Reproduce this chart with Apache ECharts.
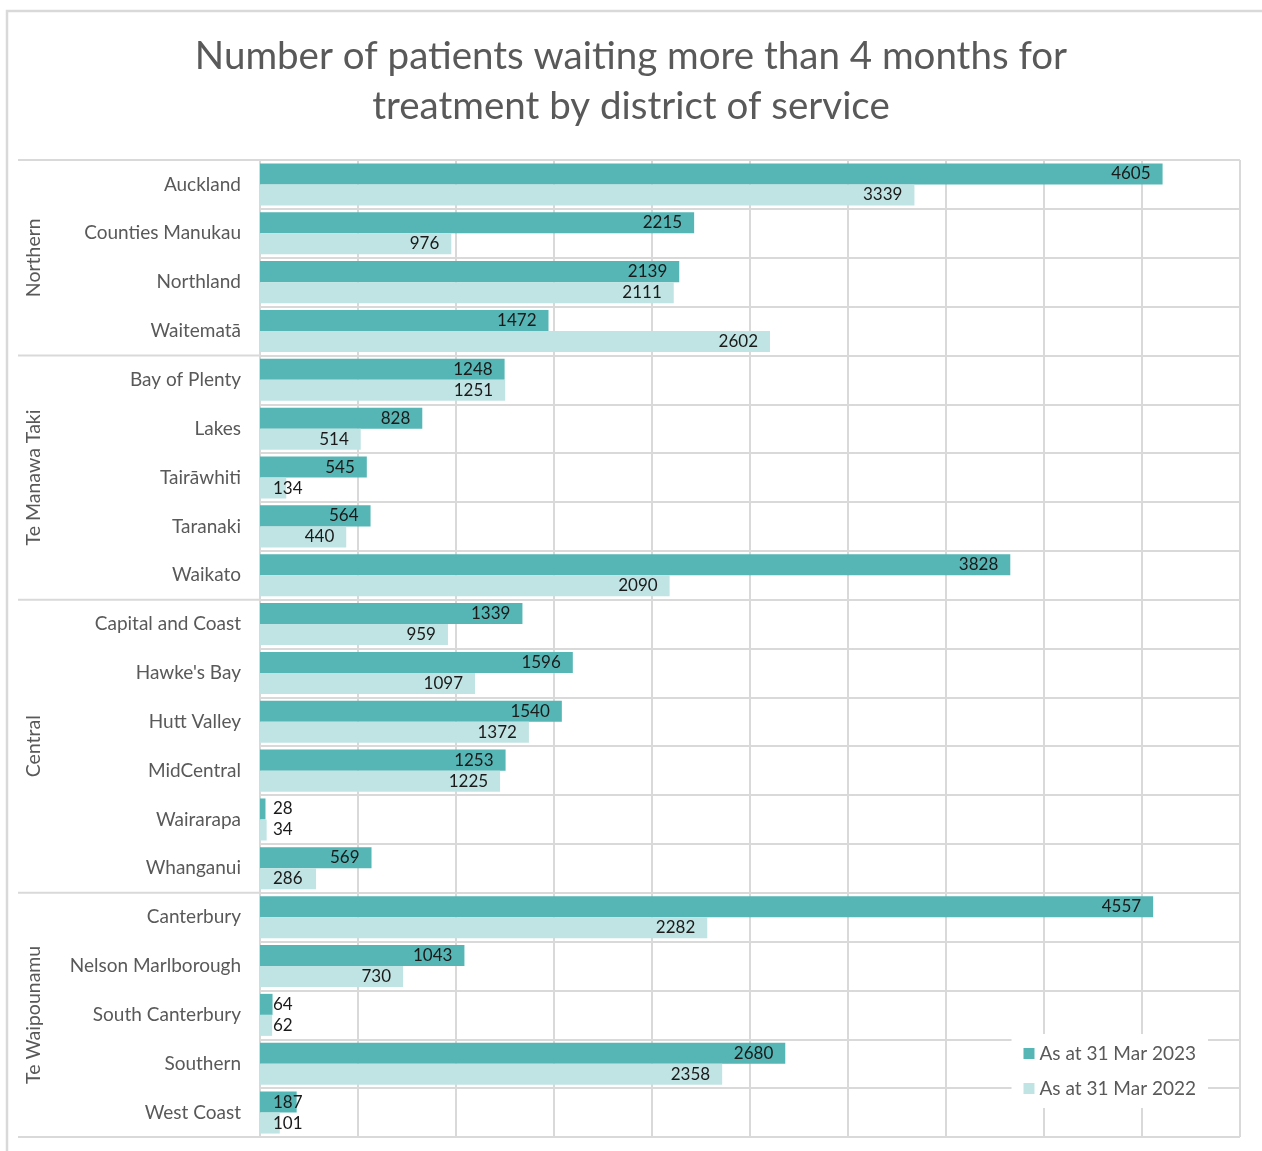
<!DOCTYPE html>
<html>
<head>
<meta charset="utf-8">
<script src="https://cdn.jsdelivr.net/npm/echarts@6/dist/echarts.min.js"></script>
<style>
  html, body { margin: 0; padding: 0; background: #fff; }
  #main { width: 1262px; height: 1151px; }
</style>
</head>
<body>
<div id="main"></div>
<script>
const districts = ['Auckland', 'Counties Manukau', 'Northland', 'Waitematā', 'Bay of Plenty', 'Lakes', 'Tairāwhiti', 'Taranaki', 'Waikato', 'Capital and Coast', "Hawke's Bay", 'Hutt Valley', 'MidCentral', 'Wairarapa', 'Whanganui', 'Canterbury', 'Nelson Marlborough', 'South Canterbury', 'Southern', 'West Coast']
const mar2023 = [4605, 2215, 2139, 1472, 1248, 828, 545, 564, 3828, 1339, 1596, 1540, 1253, 28, 569, 4557, 1043, 64, 2680, 187]
const mar2022 = [3339, 976, 2111, 2602, 1251, 514, 134, 440, 2090, 959, 1097, 1372, 1225, 34, 286, 2282, 730, 62, 2358, 101]
const regions = ['Northern', 'Te Manawa Taki', 'Central', 'Te Waipounamu']
const regionSizes = [4, 5, 6, 5]
const seriesNames = ['As at 31 Mar 2023', 'As at 31 Mar 2022']

const FONT = 'Lato, "Open Sans", sans-serif'
const GREY = '#595959'
const LINE = '#d9d9d9'

// excel puts the label at inside end, but slides it to the bar start when it does not fit
const toItems = (values) =>
  values.map((v) => ({
    value: v,
    label: v < 300 ? { position: 'insideLeft', distance: 13 } : { position: 'insideRight', distance: 12 },
  }))

const myChart = echarts.init(document.getElementById('main'))

const barSeries = (name, values, color) => ({
  name: name,
  type: 'bar',
  barGap: '0%',
  barCategoryGap: '14%',
  itemStyle: { color: color },
  label: {
    show: true,
    color: '#1a1a1a',
    fontSize: 17,
    fontFamily: FONT,
  },
  data: toItems(values),
})

const option = {
  animation: false,
  title: {
    text: 'Number of patients waiting more than 4 months for\ntreatment by district of service',
    left: 'center',
    top: 27,
    textStyle: {
      color: GREY,
      fontSize: 38.5,
      fontWeight: 'normal',
      fontFamily: FONT,
      lineHeight: 50,
    },
  },
  grid: { left: 260, right: 22, top: 160, bottom: 14 },
  legend: {
    orient: 'vertical',
    right: 54,
    bottom: 43,
    icon: 'rect',
    itemWidth: 11,
    itemHeight: 11,
    itemGap: 16,
    backgroundColor: '#fff',
    padding: [10, 12, 10, 12],
    textStyle: { color: GREY, fontSize: 19, fontFamily: FONT },
    data: seriesNames,
  },
  xAxis: {
    type: 'value',
    min: 0,
    max: 5000,
    interval: 500,
    axisLabel: { show: false },
    axisLine: { show: false },
    axisTick: { show: false },
    splitLine: { lineStyle: { color: LINE, width: 2 } },
  },
  yAxis: {
    type: 'category',
    inverse: true,
    data: districts,
    axisLine: { show: true, lineStyle: { color: LINE, width: 2 } },
    axisTick: { show: false },
    axisLabel: { color: GREY, fontSize: 19, fontFamily: FONT, margin: 19 },
    splitLine: { show: true, interval: 0, lineStyle: { color: LINE, width: 2 } },
  },
  series: [
    barSeries(seriesNames[0], mar2023, '#56b6b5'),
    barSeries(seriesNames[1], mar2022, '#c0e4e3'),
  ],
}

myChart.setOption(option)

// region labels and separators, placed from the category scale
const y0 = myChart.convertToPixel({ yAxisIndex: 0 }, 0)
const y1 = myChart.convertToPixel({ yAxisIndex: 0 }, 1)
const band = y1 - y0
const edge = (k) => y0 - band / 2 + k * band

const graphics = [
  {
    type: 'rect',
    shape: { x: 7, y: 11, width: 1270, height: 1160 },
    style: { fill: 'none', stroke: LINE, lineWidth: 2.5 },
    silent: true,
  },
]
let start = 0
regions.forEach((name, i) => {
  const top = edge(start)
  const bottom = edge(start + regionSizes[i])
  graphics.push({
    type: 'line',
    shape: { x1: 18, y1: top, x2: 260, y2: top },
    style: { stroke: LINE, lineWidth: 2 },
    silent: true,
  })
  graphics.push({
    type: 'text',
    x: 34,
    y: (top + bottom) / 2,
    rotation: Math.PI / 2,
    style: {
      text: name,
      fill: GREY,
      font: '19.5px ' + FONT,
      align: 'center',
      verticalAlign: 'middle',
    },
    silent: true,
  })
  start += regionSizes[i]
})
graphics.push({
  type: 'line',
  shape: { x1: 18, y1: edge(start), x2: 1240, y2: edge(start) },
  style: { stroke: LINE, lineWidth: 2 },
  silent: true,
})

myChart.setOption({ graphic: graphics })
</script>
</body>
</html>
